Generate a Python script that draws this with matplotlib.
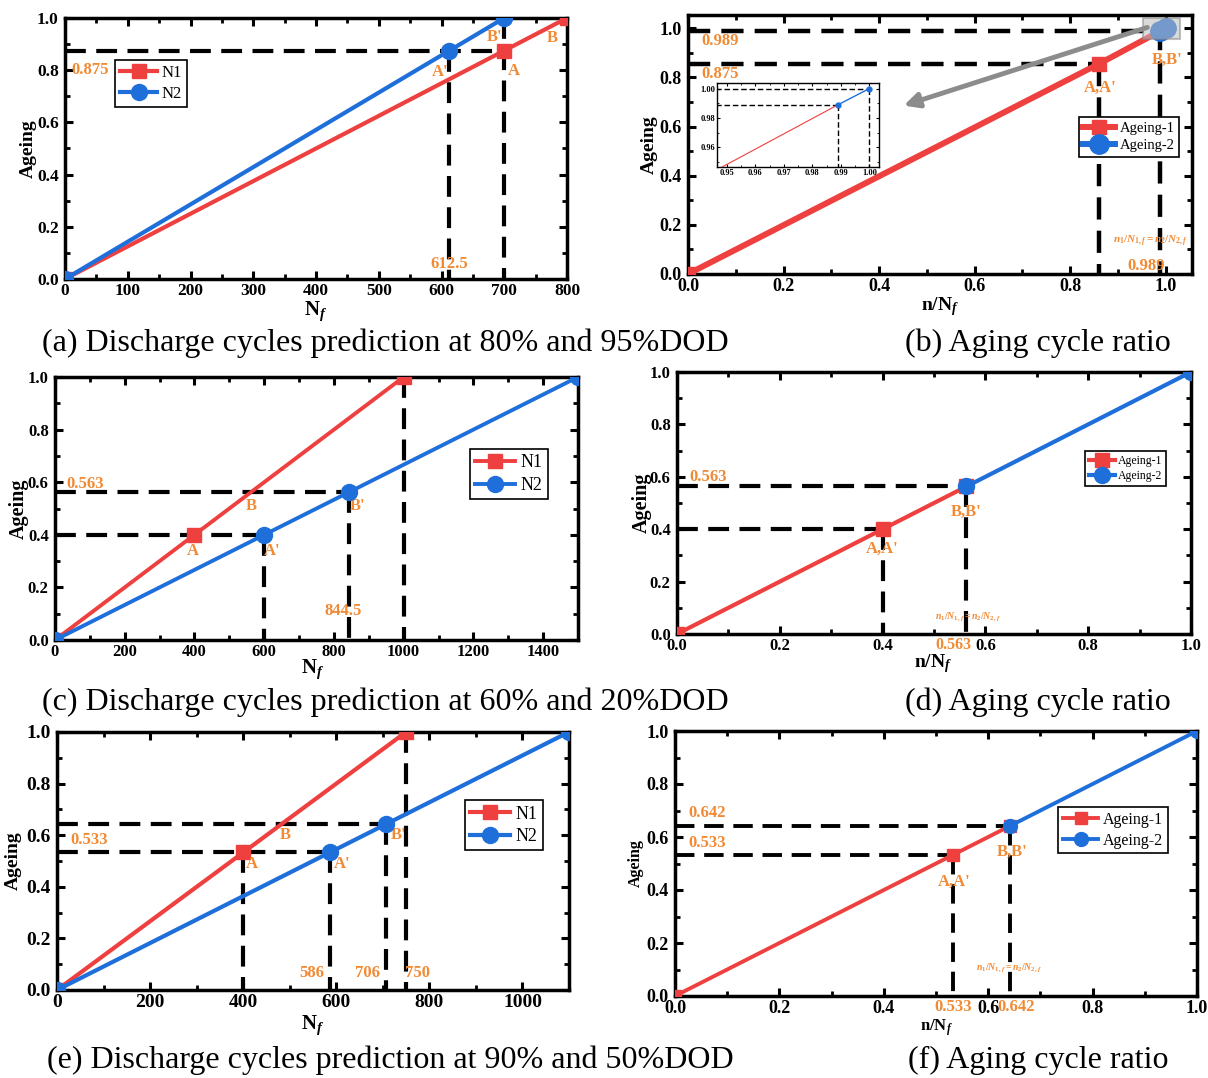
import numpy as np
import matplotlib
matplotlib.use("Agg")
import matplotlib.pyplot as plt
from matplotlib.ticker import MultipleLocator, FormatStrFormatter
from matplotlib.patches import Rectangle

plt.rcParams["font.family"] = "Liberation Serif"
plt.rcParams["font.weight"] = "bold"
plt.rcParams["axes.labelweight"] = "bold"
plt.rcParams["mathtext.fontset"] = "custom"
plt.rcParams["mathtext.rm"] = "Liberation Serif:bold"
plt.rcParams["mathtext.it"] = "Liberation Serif:italic:bold"
plt.rcParams["mathtext.bf"] = "Liberation Serif:bold"

RED = "#EF4040"
BLUE = "#1F6FDB"
ORANGE = "#F28A34"

#Data (a) 80% and 95% DOD
a_n1_x = [0, 700, 800]
a_n1_y = [0, 0.875, 1.0]
a_n2_x = [0, 612.5, 700]
a_n2_y = [0, 0.875, 1.0]
a_h = [(700, 0.875)]
a_v = [(612.5, 0.875), (700, 1.0)]

#Data (b) ratio
b_age1_x = [0, 0.86, 0.989]
b_age1_y = [0, 0.855, 0.989]
b_age2_x = [0.989, 1.0]
b_age2_y = [0.989, 1.0]
b_h = [(0.86, 0.855), (0.989, 0.989)]
b_v = [(0.86, 0.855), (0.989, 1.0)]
b_ins_h = [(0.989, 0.989), (1.0, 1.0)]
b_ins_v = [(0.989, 0.989), (1.0, 1.0)]

#Data (c) 60% and 20% DOD
c_n1_x = [0, 400, 1000]
c_n1_y = [0, 0.4, 1.0]
c_n2_x = [0, 600, 844.5, 1500]
c_n2_y = [0, 0.4, 0.563, 1.0]
c_h = [(600, 0.4), (844.5, 0.563)]
c_v = [(600, 0.4), (844.5, 0.563), (1000, 1.0)]

#Data (d) ratio
d_age1_x = [0, 0.4, 0.563]
d_age1_y = [0, 0.4, 0.563]
d_age2_x = [0.563, 1.0]
d_age2_y = [0.563, 1.0]
d_h = [(0.4, 0.4), (0.563, 0.563)]
d_v = [(0.4, 0.4), (0.563, 0.563)]

#Data (e) 90% and 50% DOD
e_n1_x = [0, 400, 750]
e_n1_y = [0, 0.533, 1.0]
e_n2_x = [0, 586, 706, 1100]
e_n2_y = [0, 0.533, 0.642, 1.0]
e_h = [(586, 0.533), (706, 0.642)]
e_v = [(400, 0.533), (586, 0.533), (706, 0.642), (750, 1.0)]

#Data (f) ratio
f_age1_x = [0, 0.533, 0.642]
f_age1_y = [0, 0.533, 0.642]
f_age2_x = [0.642, 1.0]
f_age2_y = [0.642, 1.0]
f_h = [(0.533, 0.533), (0.642, 0.642)]
f_v = [(0.533, 0.533), (0.642, 0.642)]

captions = [
    "(a) Discharge cycles prediction at 80% and 95%DOD",
    "(b) Aging cycle ratio",
    "(c) Discharge cycles prediction at 60% and 20%DOD",
    "(d) Aging cycle ratio",
    "(e) Discharge cycles prediction at 90% and 50%DOD",
    "(f) Aging cycle ratio",
]

W, H = 1208, 1078
fig = plt.figure(figsize=(W / 100, H / 100), dpi=100)


def px_axes(l, t, r, b):
    return fig.add_axes([l / W, 1 - b / H, (r - l) / W, (b - t) / H])


def style(ax, xlim, ylim, xmaj, ymaj, fs, xfmt, lw=2.5):
    ax.set_xlim(*xlim)
    ax.set_ylim(*ylim)
    ax.xaxis.set_major_locator(MultipleLocator(xmaj))
    ax.xaxis.set_minor_locator(MultipleLocator(xmaj / 2))
    ax.yaxis.set_major_locator(MultipleLocator(ymaj))
    ax.yaxis.set_minor_locator(MultipleLocator(ymaj / 2))
    ax.xaxis.set_major_formatter(FormatStrFormatter(xfmt))
    ax.yaxis.set_major_formatter(FormatStrFormatter("%.1f"))
    ax.tick_params(which="both", direction="in", top=True, right=True)
    ax.tick_params(which="major", length=6, width=2.2, labelsize=fs, pad=3)
    ax.tick_params(axis="y", which="major", pad=4.5)
    ax.tick_params(which="minor", length=3.5, width=2)
    for s in ax.spines.values():
        s.set_linewidth(lw)


def guides(ax, hs, vs, lw=3, dash=(5, 2.5)):
    for x, y in hs:
        ax.plot([0, x], [y, y], color="k", lw=lw, dashes=dash, zorder=1)
    for x, y in vs:
        ax.plot([x, x], [y, 0], color="k", lw=lw, dashes=dash, zorder=1)


def series(ax, x1, y1, x2, y2, l1, l2, lw=3, ms1=10, ms2=11.5):
    ax.plot(x1, y1, color=RED, lw=lw, marker="s", ms=ms1, label=l1, zorder=3)
    ax.plot(x2, y2, color=BLUE, lw=lw, marker="o", ms=ms2, label=l2, zorder=4)


def legend(ax, anchor, fs):
    leg = ax.legend(loc="upper left", bbox_to_anchor=anchor,
                    prop={"weight": "normal", "size": fs}, fancybox=False,
                    edgecolor="k", framealpha=1, borderpad=0.3, labelspacing=0.3,
                    handlelength=2.2, handletextpad=0.3, borderaxespad=0)
    leg.get_frame().set_linewidth(1.2)


def lab(ax, x, y, s, fs=12, ha="center", **kw):
    ax.text(x, y, s, color=ORANGE, fontsize=fs, ha=ha, va="center", **kw)


def labels(ax, xl, xpos, ypos, fsx=15, fsy=14):
    ax.set_xlabel(xl, fontsize=fsx)
    ax.set_ylabel("Ageing", fontsize=fsy)
    ax.xaxis.set_label_coords(*xpos)
    ax.yaxis.set_label_coords(*ypos)


formula = r"$n_1/N_{1,f}=n_2/N_{2,f}$"

# ---------- (a)
ax = px_axes(65, 18, 567, 279)
style(ax, (0, 800), (0, 1), 100, 0.2, 12.5, "%d")
guides(ax, a_h, a_v)
series(ax, a_n1_x, a_n1_y, a_n2_x, a_n2_y, "N1", "N2")
legend(ax, (0.1, 0.84), 12)
labels(ax, r"N$_f$", (0.5, -0.078), (-0.056, 0.5))
lab(ax, 10, 0.80, "0.875", ha="left")
lab(ax, 612, 0.057, "612.5")
lab(ax, 598, 0.793, "A'")
lab(ax, 716, 0.797, "A")
lab(ax, 684, 0.927, "B'")
lab(ax, 776, 0.923, "B")

# ---------- (b)
ax = px_axes(688, 15, 1192, 274)
style(ax, (0, 1.055), (0, 1.054), 0.2, 0.2, 13, "%.1f")
guides(ax, b_h, b_v, lw=3.2)
series(ax, b_age1_x, b_age1_y, b_age2_x, b_age2_y, "Ageing-1", "Ageing-2",
       lw=4.3, ms1=10.5, ms2=14)
legend(ax, (0.775, 0.606), 10.5)
labels(ax, r"n/N$_f$", (0.5, -0.08), (-0.06, 0.5), fsx=14, fsy=14)
ax.add_patch(Rectangle((0.952, 0.957), 0.078, 0.085, facecolor="#BDBDBD",
                       alpha=0.55, edgecolor="#8C8C8C", lw=1.5, zorder=6))
ax.annotate("", xy=(0.446, 0.682), xytext=(0.967, 1.007),
            arrowprops=dict(arrowstyle="-|>", color="#8C8C8C", lw=3.5,
                            mutation_scale=22), zorder=6)
lab(ax, 0.029, 0.95, "0.989", ha="left")
lab(ax, 0.029, 0.812, "0.875", ha="left")
lab(ax, 1.004, 0.873, "B,B'")
lab(ax, 0.863, 0.759, "A,A'")
lab(ax, 0.96, 0.033, "0.989")
lab(ax, 0.967, 0.134, formula, fs=8)

# inset
ins = px_axes(717, 83, 879, 167)
style(ins, (0.9465, 1.0034), (0.9467, 1.0038), 0.01, 0.02, 6, "%.2f", lw=1)
ins.yaxis.set_major_formatter(FormatStrFormatter("%.2f"))
ins.tick_params(which="major", length=2.5, width=0.8, pad=1.5)
ins.tick_params(which="minor", length=1.5, width=0.6)
guides(ins, b_ins_h, b_ins_v, lw=1, dash=(4, 2))
ins.plot(b_age1_x, b_age1_y, color=RED, lw=0.8, zorder=3)
ins.plot(b_age2_x, b_age2_y, color=BLUE, lw=1, marker="o", ms=3.5, zorder=4)

# ---------- (c)
ax = px_axes(55, 377, 578, 640)
style(ax, (0, 1500), (0, 1), 200, 0.2, 12, "%d")
guides(ax, c_h, c_v)
series(ax, c_n1_x, c_n1_y, c_n2_x, c_n2_y, "N1", "N2", lw=2.8)
legend(ax, (0.793, 0.726), 13)
labels(ax, r"N$_f$", (0.493, -0.065), (-0.05, 0.5), fsy=14.5)
lab(ax, 34, 0.595, "0.563", ha="left")
lab(ax, 396, 0.34, "A")
lab(ax, 622, 0.34, "A'")
lab(ax, 562, 0.508, "B")
lab(ax, 869, 0.508, "B'")
lab(ax, 826, 0.11, "844.5")

# ---------- (d)
ax = px_axes(677, 372, 1191, 634)
style(ax, (0, 1), (0, 1), 0.2, 0.2, 12, "%.1f")
guides(ax, d_h, d_v)
series(ax, d_age1_x, d_age1_y, d_age2_x, d_age2_y, "Ageing-1", "Ageing-2")
legend(ax, (0.794, 0.698), 8.5)
labels(ax, r"n/N$_f$", (0.498, -0.07), (-0.049, 0.5), fsx=14, fsy=14.5)
lab(ax, 0.025, 0.6, "0.563", ha="left")
lab(ax, 0.4, 0.324, "A,A'")
lab(ax, 0.562, 0.466, "B,B'")
lab(ax, 0.566, 0.065, formula, fs=7)
ax.text(0.538, -0.012, "0.563", color=ORANGE, fontsize=11.5, ha="center",
        va="top", clip_on=False)

# ---------- (e)
ax = px_axes(57, 732, 569, 990)
style(ax, (0, 1100), (0, 1), 200, 0.2, 14, "%d")
guides(ax, e_h, e_v)
series(ax, e_n1_x, e_n1_y, e_n2_x, e_n2_y, "N1", "N2")
legend(ax, (0.797, 0.736), 13)
labels(ax, r"N$_f$", (0.5, -0.093), (-0.068, 0.5), fsy=14)
lab(ax, 28, 0.58, "0.533", ha="left")
lab(ax, 419, 0.49, "A")
lab(ax, 612, 0.49, "A'")
lab(ax, 490, 0.60, "B")
lab(ax, 733, 0.60, "B'")
lab(ax, 548, 0.066, "586")
lab(ax, 668, 0.066, "706")
lab(ax, 775, 0.066, "750")

# ---------- (f)
ax = px_axes(675, 731, 1197, 996)
style(ax, (0, 1), (0, 1), 0.2, 0.2, 13, "%.1f")
guides(ax, f_h, f_v, lw=2.8)
series(ax, f_age1_x, f_age1_y, f_age2_x, f_age2_y, "Ageing-1", "Ageing-2",
       lw=2.8, ms1=9, ms2=10)
legend(ax, (0.734, 0.713), 11.5)
labels(ax, r"n/N$_f$", (0.5, -0.08), (-0.059, 0.5), fsx=12, fsy=11.5)
lab(ax, 0.025, 0.69, "0.642", ha="left")
lab(ax, 0.025, 0.577, "0.533", ha="left")
lab(ax, 0.535, 0.43, "A,A'")
lab(ax, 0.645, 0.543, "B,B'")
lab(ax, 0.64, 0.105, formula, fs=7)
ax.text(0.532, -0.012, "0.533", color=ORANGE, fontsize=12, ha="center",
        va="top", clip_on=False)
ax.text(0.653, -0.012, "0.642", color=ORANGE, fontsize=12, ha="center",
        va="top", clip_on=False)

# captions
cap_pos = [(42, 343), (905, 343), (42, 702), (905, 702), (47, 1060), (908, 1060)]
for (x, y), s in zip(cap_pos, captions):
    fig.text(x / W, 1 - y / H, s, fontsize=23, fontweight="normal",
             ha="left", va="center")

fig.savefig("out.png", dpi=100)
